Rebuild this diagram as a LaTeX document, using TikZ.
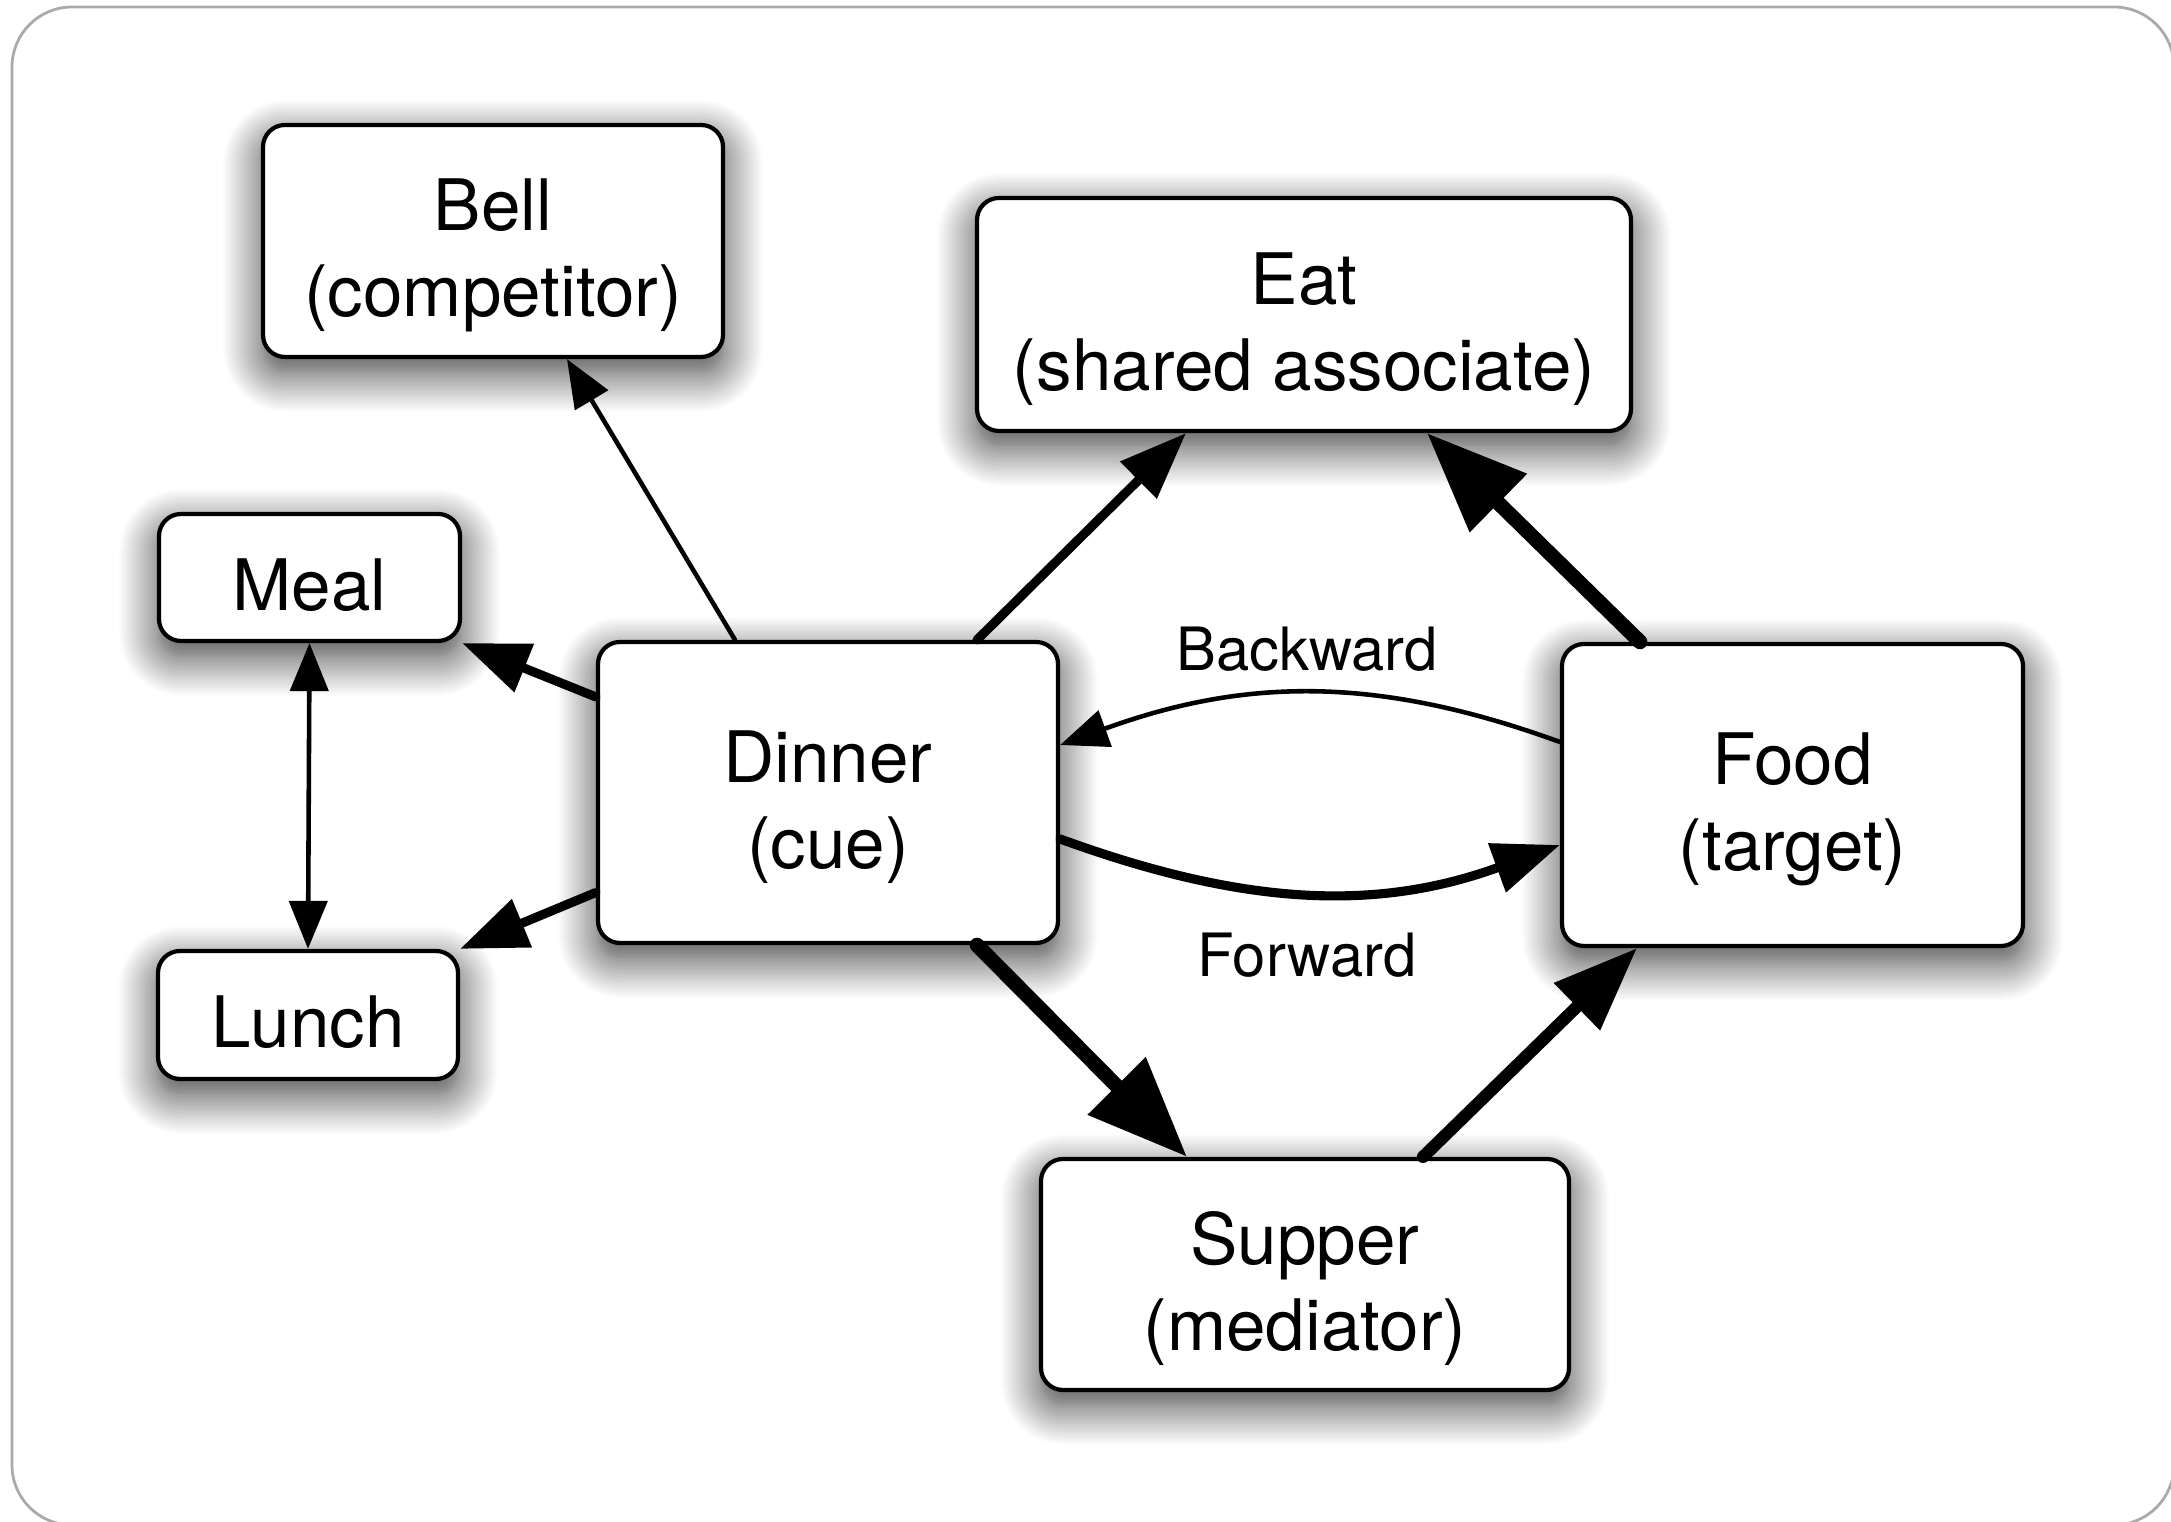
\documentclass[tikz,border=0pt]{standalone}
\usepackage{fontspec}
\setmainfont{TeX Gyre Heros}
\usetikzlibrary{arrows.meta,shadows.blur}
\definecolor{framegray}{RGB}{170,170,170}

\tikzset{
    box/.style={draw=black, line width=1.2pt, rounded corners=0.22cm, fill=white,
        align=center, inner sep=0pt, font=\fontsize{20.2}{24.5}\selectfont,
        execute at begin node={\rule{0pt}{#1}},
        blur shadow={shadow xshift=0cm, shadow yshift=-0.15cm,
            shadow blur radius=0.4cm, shadow blur steps=20, shadow opacity=80}},
    box/.default=47.5pt,
    lbl/.style={font=\fontsize{17}{20}\selectfont},
    thintip/.tip={Triangle[length=4.8mm,width=3.8mm]},
    midtip/.tip={Triangle[length=6.7mm,width=5mm]},
    bigtip/.tip={Triangle[length=8.4mm,width=6.3mm]},
    hugetip/.tip={Triangle[length=10mm,width=7.8mm]},
    thinline/.style={line width=1.3pt, line cap=round},
    thinarrow/.style={thinline, -thintip},
    midarrow/.style={line width=2.6pt, line cap=round, -midtip},
    bigarrow/.style={line width=3.5pt, line cap=round, -bigtip},
    hugearrow/.style={line width=4.2pt, line cap=round, -hugetip}
}

\begin{document}
\begin{tikzpicture}
    \useasboundingbox (0,0) rectangle (21.71,15.22);
    \draw[framegray, line width=0.8pt, rounded corners=0.6cm] (0.12,-0.03) rectangle (21.74,15.15);

    \node[box, minimum width=4.6cm, minimum height=2.32cm] (bell) at (4.93,12.81) {Bell\\(competitor)};
    \node[box, minimum width=6.54cm, minimum height=2.33cm] (eat) at (13.04,12.075) {Eat\\(shared associate)};
    \node[box=19pt, minimum width=3.01cm, minimum height=1.27cm] (meal) at (3.095,9.445) {Meal};
    \node[box, minimum width=4.6cm, minimum height=3.01cm] (dinner) at (8.28,7.295) {Dinner\\(cue)};
    \node[box=19pt, minimum width=3.0cm, minimum height=1.28cm] (lunch) at (3.08,5.07) {Lunch};
    \node[box, minimum width=4.61cm, minimum height=3.02cm] (food) at (17.925,7.27) {Food\\(target)};
    \node[box, minimum width=5.28cm, minimum height=2.31cm] (supper) at (13.05,2.475) {Supper\\(mediator)};

    \draw[thinarrow] ([xshift=-0.93cm]dinner.north) -- ([xshift=0.74cm]bell.south);
    \draw[midarrow] ([yshift=0.955cm]dinner.west) -- (meal.south east);
    \draw[midarrow] ([yshift=-1cm]dinner.west) -- (lunch.north east);
    \draw[thinline, thintip-thintip] (meal.south) -- (lunch.north);
    \draw[midarrow] ([xshift=1.49cm]dinner.north) -- ([xshift=-1.18cm]eat.south);
    \draw[hugearrow] ([xshift=-1.525cm]food.north) -- ([xshift=1.23cm]eat.south);
    \draw[hugearrow] ([xshift=1.49cm]dinner.south) -- ([xshift=-1.18cm]supper.north);
    \draw[bigarrow] ([xshift=1.18cm]supper.north) -- ([xshift=-1.555cm]food.south);
    \draw[thinarrow] ([yshift=0.53cm]food.west) to[out=160, in=20] ([yshift=0.475cm]dinner.east);
    \draw[midarrow] ([yshift=-0.465cm]dinner.east) to[out=-20, in=200] ([yshift=-0.5cm]food.west);

    \node[lbl] (backward) at (13.07,8.73) {Backward};
    \node[lbl] (forward) at (13.07,5.67) {Forward};
\end{tikzpicture}
\end{document}
